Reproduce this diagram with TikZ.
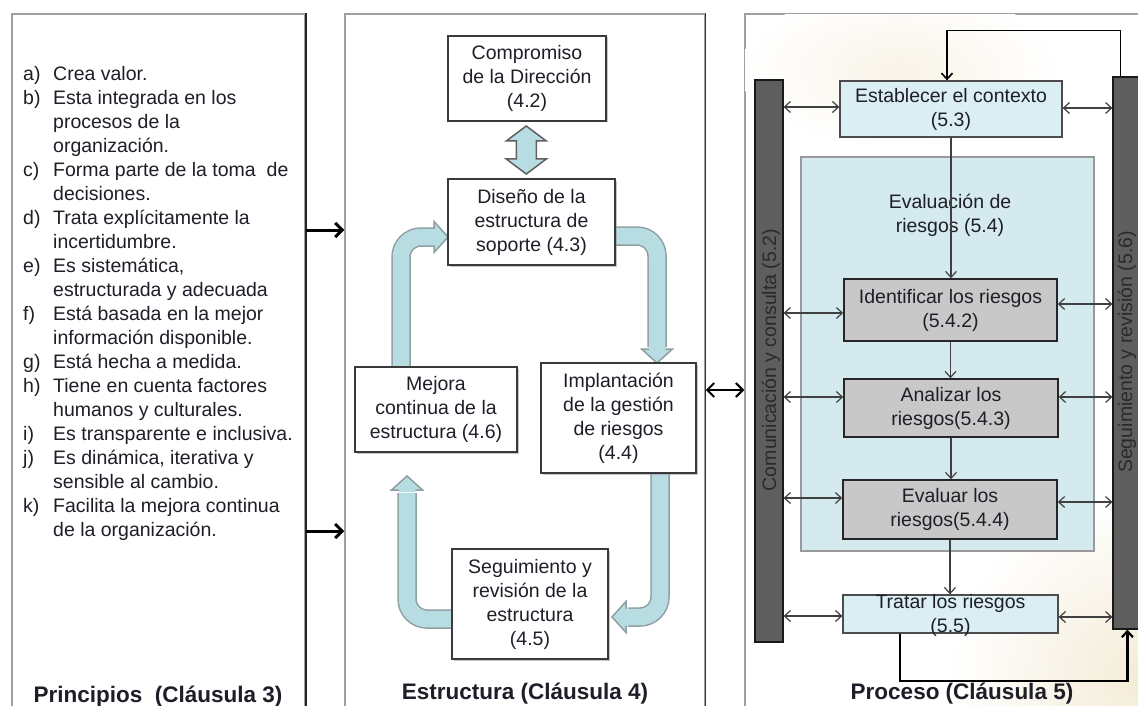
\documentclass[tikz,border=0pt]{standalone}
\usepackage{fontspec}
\setmainfont{Liberation Sans}
\usetikzlibrary{arrows.meta,calc,shadows}

\definecolor{ink}{HTML}{1E1E28}
\definecolor{panelline}{HTML}{A0A0A0}
\definecolor{boxline}{HTML}{3A3A3A}
\definecolor{blockfill}{HTML}{B7DDE3}
\definecolor{blockline}{HTML}{8E9FA2}
\definecolor{stepfill}{HTML}{DAEEF3}
\definecolor{evalfill}{HTML}{D4EAEE}
\definecolor{greyfill}{HTML}{C8C8C8}
\definecolor{barfill}{HTML}{5E5E5E}
\definecolor{bartext}{HTML}{2A2A2A}
\definecolor{sand}{HTML}{F4ECD8}

% list helpers
\newcommand\itemlab[1]{\makebox[30pt][l]{#1}}
\newcommand\itemgap{\hspace*{30pt}}

% head of a block arrow: #1 tip coordinate, #2 direction angle
\newcommand\blockhead[2]{%
  \begin{scope}[shift={(#1)}, rotate=#2]
    \fill[blockfill] (0,0) -- (-14,15.5) -- (-14,8.25) -- (-16,8.25) -- (-16,-8.25)
      -- (-14,-8.25) -- (-14,-15.5) -- cycle;
    \draw[blockline, line width=1.5pt, line join=miter]
      (-14,8.25) -- (-14,15.5) -- (0,0) -- (-14,-15.5) -- (-14,-8.25);
  \end{scope}}

\tikzset{
  txt/.style={font=\fontsize{19.5}{24}\selectfont, text=ink},
  panelbox/.style={draw=panelline, line width=1.5pt, fill=white, inner sep=0pt},
  sbox/.style={txt, draw=boxline, line width=1.4pt, fill=white, align=center, inner sep=0pt,
    drop shadow={shadow xshift=1.5pt, shadow yshift=-1.5pt, fill=black!45, opacity=0.5}},
  stepbox/.style={txt, draw=black!70, line width=1.3pt, fill=stepfill, align=center, inner sep=0pt},
  riskbox/.style={txt, draw=black!85, line width=1.6pt, fill=greyfill, align=center, inner sep=0pt},
  evalbox/.style={draw=black!40, line width=1.3pt, fill=evalfill, inner sep=0pt},
  bar/.style={draw=black!90, line width=1.2pt, fill=barfill, inner sep=0pt},
  bartxt/.style={font=\fontsize{19.5}{24}\selectfont, text=bartext, rotate=90, inner sep=0pt},
  title/.style={font=\bfseries\fontsize{22.5}{27}\selectfont, text=ink, inner sep=0pt},
  shaftout/.style={draw=blockline, line width=19.5pt, rounded corners=20pt},
  shaftin/.style={draw=blockfill, line width=16.5pt, rounded corners=20pt},
  flow/.style={draw=black!75, line width=1.2pt, -{Straight Barb[length=6pt,width=11pt]}},
  dbl/.style={draw=black!75, line width=1.2pt,
    {Straight Barb[length=6pt,width=11pt]}-{Straight Barb[length=6pt,width=11pt]}},
  fb/.style={draw=black, line width=1.6pt, -{Straight Barb[length=6pt,width=11pt]}},
  bigarr/.style={draw=black, line width=3pt, -{Straight Barb[length=7pt,width=14pt]}},
  midarr/.style={draw=black, line width=2pt,
    {Straight Barb[length=7pt,width=14pt]}-{Straight Barb[length=7pt,width=14pt]}},
}

\begin{document}
\begin{tikzpicture}[x=1pt, y=-1pt]
\useasboundingbox (0,0) rectangle (1138,706);
\clip (0,0) rectangle (1138,706);
\fill[white] (0,0) rectangle (1138,706);

% ---------- the three panels ----------
\node[panelbox, minimum width=293pt, minimum height=716pt] (lp) at (158.5,372) {};
\node[panelbox, minimum width=360pt, minimum height=716pt] (mp) at (525,372) {};
\node[panelbox, minimum width=415pt, minimum height=716pt] (rp) at (952.5,372) {};
\draw[black!85, line width=1.6pt] (lp.north east) -- (lp.south east);
\draw[black!80, line width=1.4pt] (mp.north east) -- (mp.south east);

% soft background tint of the process panel
\begin{scope}
  \clip ($(rp.north west)+(1,1)$) rectangle (1138,706);
  \shade[inner color=sand, outer color=white] (1138,680) circle (190);
  \shade[inner color=sand!60, outer color=white] (900,70) ellipse (160 and 80);
\end{scope}

% ---------- principles ----------
\node[txt, anchor=north west, align=left, inner sep=0pt] (plist) at (23,63.2) {%
\strut\itemlab{a)}Crea valor.\\
\itemlab{b)}Esta integrada en los\\
\itemgap procesos de la\\
\itemgap organización.\\
\itemlab{c)}Forma parte de la toma~ de\\
\itemgap decisiones.\\
\itemlab{d)}Trata explícitamente la\\
\itemgap incertidumbre.\\
\itemlab{e)}Es sistemática,\\
\itemgap estructurada y adecuada\\
\itemlab{f)}Está basada en la mejor\\
\itemgap información disponible.\\
\itemlab{g)}Está hecha a medida.\\
\itemlab{h)}Tiene en cuenta factores\\
\itemgap humanos y culturales.\\
\itemlab{i)}Es transparente e inclusiva.\\
\itemlab{j)}Es dinámica, iterativa y\\
\itemgap sensible al cambio.\\
\itemlab{k)}Facilita la mejora continua\\
\itemgap de la organización.};

\node[title] (t1) at (158,697) {Principios~ (Cláusula 3)};

% ---------- framework: positions of the boxes ----------
\coordinate (comp) at (527,78.5);
\coordinate (diseno) at (531.5,222);
\coordinate (mejora) at (436,409.5);
\coordinate (impl) at (618.5,418);
\coordinate (segu) at (530,604);

% cycle of block arrows (drawn first, boxes cover the shaft ends)
\coordinate (a1s) at ($(mejora)+(-35,-42.5)$);
\coordinate (a1t) at ($(diseno)+(-83.5,15)$);
\coordinate (a2s) at ($(diseno)+(83.5,14)$);
\coordinate (a2t) at ($(impl)+(38.5,-55)$);
\coordinate (a3s) at ($(impl)+(41.5,55)$);
\coordinate (a3t) at ($(segu)+(82,13)$);
\coordinate (a4s) at ($(segu)+(-78,15)$);
\coordinate (a4t) at ($(mejora)+(-29,66.5)$);
\foreach \st in {shaftout, shaftin} {
  \draw[\st] (a1s) |- ($(a1t)+(-14,0)$);
  \draw[\st] (a2s) -| ($(a2t)+(0,-16)$);
  \draw[\st] (a3s) |- ($(a3t)+(16,0)$);
  \draw[\st] (a4s) -| ($(a4t)+(0,17)$);
}
\blockhead{a1t}{0}
\blockhead{a2t}{-90}
\blockhead{a3t}{180}
\blockhead{a4t}{90}

\node[sbox, minimum width=158pt, minimum height=85pt] (compb) at (comp)
  {Compromiso\\de la Dirección\\(4.2)};
\node[sbox, minimum width=167pt, minimum height=86pt] (disenob) at (diseno)
  {Diseño de la\\estructura de\\soporte (4.3)};
\node[sbox, minimum width=162pt, minimum height=85pt] (mejorab) at (mejora)
  {Mejora\\continua de la\\estructura (4.6)};
\node[sbox, minimum width=155pt, minimum height=110pt] (implb) at (impl)
  {Implantación\\de la gestión\\de riesgos\\(4.4)};
\node[sbox, minimum width=156pt, minimum height=110pt] (segub) at (segu)
  {Seguimiento y\\revisión de la\\estructura\\(4.5)};

% double block arrow between the two upper boxes
\coordinate (cd) at ($(compb.south)!0.5!(disenob.north)$);
\begin{scope}[shift={($(cd)+(-3,0)$)}]
  \draw[draw=boxline!80, fill=blockfill, line width=1.5pt, line join=miter]
    (0,-24) -- (20,-9) -- (10,-9) -- (10,9) -- (20,9) -- (0,24)
    -- (-20,9) -- (-10,9) -- (-10,-9) -- (-20,-9) -- cycle;
\end{scope}

\node[title] (t2) at (525,694) {Estructura (Cláusula 4)};

% ---------- arrows between panels ----------
\coordinate (y1) at (0,230);
\coordinate (y2) at (0,531);
\coordinate (y3) at (0,390);
\draw[bigarr] (lp.east |- y1) -- (mp.west |- y1);
\draw[bigarr] (lp.east |- y2) -- (mp.west |- y2);
\draw[midarr] (mp.east |- y3) -- (rp.west |- y3);

% ---------- process ----------
\node[evalbox, minimum width=293pt, minimum height=394pt] (evalbig) at (947.5,354) {};
\node[txt, align=center, inner sep=0pt] (evallbl) at (950,215.5) {Evaluación de\\riesgos (5.4)};

\node[bar, minimum width=28pt, minimum height=562pt] (lbar) at (769,361) {};
\node[bartxt] (lbartxt) at (771,360) {Comunicación y consulta (5.2)};
\node[bar, minimum width=30pt, minimum height=552pt] (rbar) at (1128,353) {};
\node[bartxt] (rbartxt) at (1127,352) {Seguimiento y revisión (5.6)};

\node[stepbox, minimum width=222pt, minimum height=56pt] (estab) at (951,109)
  {Establecer el contexto\\(5.3)};
\node[riskbox, minimum width=213pt, minimum height=62pt] (iden) at (950.5,310)
  {Identificar los riesgos\\(5.4.2)};
\node[riskbox, minimum width=214pt, minimum height=58pt] (anal) at (951,408)
  {Analizar los\\riesgos(5.4.3)};
\node[riskbox, minimum width=214pt, minimum height=59pt] (evar) at (950,509.5)
  {Evaluar los\\riesgos(5.4.4)};
\node[stepbox, minimum width=215pt, minimum height=38pt] (trat) at (950.5,614) {};

% flow through the process
\draw[flow] (estab.south) -- (estab.south |- iden.north);
\draw[flow] (iden.south) -- (iden.south |- anal.north);
\draw[flow] (anal.south) -- (anal.south |- evar.north);
\draw[flow] (evar.south) -- (evar.south |- trat.north);

% links with communication and monitoring
\coordinate (l1) at ($(estab.west)+(0,-2)$);
\coordinate (l2) at ($(iden.west)+(0,3)$);
\coordinate (l3) at ($(anal.west)+(0,-11)$);
\coordinate (l4) at ($(evar.west)+(0,-11.5)$);
\coordinate (l5) at ($(trat.west)+(0,2)$);
\coordinate (r1) at ($(estab.east)+(0,-1)$);
\coordinate (r2) at ($(iden.east)+(0,-6)$);
\coordinate (r3) at ($(anal.east)+(0,-11)$);
\coordinate (r4) at ($(evar.east)+(0,-7.5)$);
\coordinate (r5) at ($(trat.east)+(0,3)$);
\foreach \c in {l1,l2,l3,l4,l5} \draw[dbl] (\c -| lbar.east) -- (\c);
\foreach \c in {r1,r2,r3,r4,r5} \draw[dbl] (\c) -- (\c -| rbar.west);

% feedback loops
\draw[fb] ($(rbar.north west)+(8,0)$) -- ++(0,-46) -| ($(estab.north)+(-4,0)$);
\draw[fb, line width=2.2pt] ($(trat.south west)+(58,0)$) -- ++(0,47) -| ($(rbar.south west)+(15,0)$);

\node[txt, align=center, inner sep=0pt] (tratlbl) at (950.5,615.5) {Tratar los riesgos\\(5.5)};

\node[title] (t3) at (962,694) {Proceso (Cláusula 5)};
\end{tikzpicture}
\end{document}
